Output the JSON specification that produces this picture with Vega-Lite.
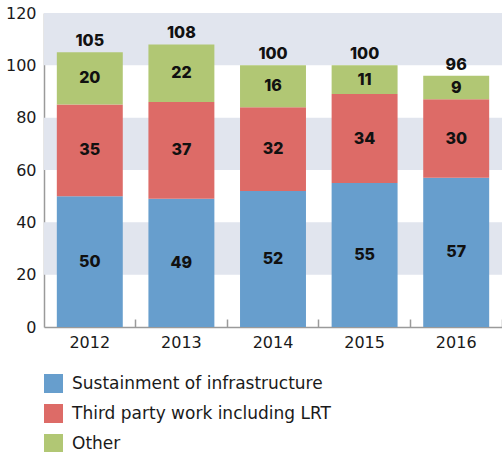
{
  "$schema": "https://vega.github.io/schema/vega-lite/v6.json",
  "width": 458,
  "height": 314,
  "autosize": {"type": "none"},
  "padding": {"left": 44, "top": 13, "right": 0, "bottom": 125},
  "background": "white",
  "config": {
    "view": {"stroke": null},
    "font": "DejaVu Sans",
    "axis": {"labelFont": "DejaVu Sans", "labelFontSize": 16, "labelColor": "#1a1a1a", "grid": false, "domainColor": "#9a9a9a", "domainWidth": 1.5}
  },
  "datasets": {
    "bands": [
      {"lo": 20, "hi": 40},
      {"lo": 60, "hi": 80},
      {"lo": 100, "hi": 120}
    ],
    "costs": [
      {"year": "2012", "category": "Sustainment of infrastructure", "k": 1, "value": 50},
      {"year": "2012", "category": "Third party work including LRT", "k": 2, "value": 35},
      {"year": "2012", "category": "Other", "k": 3, "value": 20},
      {"year": "2013", "category": "Sustainment of infrastructure", "k": 1, "value": 49},
      {"year": "2013", "category": "Third party work including LRT", "k": 2, "value": 37},
      {"year": "2013", "category": "Other", "k": 3, "value": 22},
      {"year": "2014", "category": "Sustainment of infrastructure", "k": 1, "value": 52},
      {"year": "2014", "category": "Third party work including LRT", "k": 2, "value": 32},
      {"year": "2014", "category": "Other", "k": 3, "value": 16},
      {"year": "2015", "category": "Sustainment of infrastructure", "k": 1, "value": 55},
      {"year": "2015", "category": "Third party work including LRT", "k": 2, "value": 34},
      {"year": "2015", "category": "Other", "k": 3, "value": 11},
      {"year": "2016", "category": "Sustainment of infrastructure", "k": 1, "value": 57},
      {"year": "2016", "category": "Third party work including LRT", "k": 2, "value": 30},
      {"year": "2016", "category": "Other", "k": 3, "value": 9}
    ]
  },
  "layer": [
    {
      "data": {"name": "bands"},
      "mark": {"type": "rect", "color": "#e1e5ee"},
      "encoding": {
        "y": {"field": "lo", "type": "quantitative", "scale": {"domain": [0, 120]}},
        "y2": {"field": "hi"}
      }
    },
    {
      "data": {"name": "costs"},
      "mark": {"type": "bar"},
      "encoding": {
        "x": {
          "field": "year", "type": "nominal",
          "scale": {"paddingInner": 0.28, "paddingOuter": 0.14},
          "axis": {"title": null, "labelAngle": 0, "labelPadding": 15, "bandPosition": 1.197, "tickSize": -8, "tickColor": "#9a9a9a", "tickWidth": 1.5}
        },
        "y": {
          "field": "value", "type": "quantitative", "stack": "zero",
          "scale": {"domain": [0, 120]},
          "axis": {"title": null, "values": [0, 20, 40, 60, 80, 100, 120], "ticks": false, "labelPadding": 8}
        },
        "order": {"field": "k", "type": "quantitative"},
        "color": {
          "field": "category", "type": "nominal",
          "scale": {
            "domain": ["Sustainment of infrastructure", "Third party work including LRT", "Other"],
            "range": ["#679ecd", "#dd6b67", "#b1c774"]
          },
          "legend": {
            "title": null, "orient": "none", "legendX": 0, "legendY": 361, "direction": "vertical",
            "symbolType": "square", "symbolSize": 360, "symbolStrokeWidth": 0, "labelLimit": 0,
            "labelFontSize": 17, "labelFont": "DejaVu Sans", "labelColor": "#1a1a1a", "rowPadding": 11, "labelOffset": 9, "symbolOffset": 0
          }
        }
      }
    },
    {
      "data": {"name": "costs"},
      "transform": [
        {"stack": "value", "groupby": ["year"], "sort": [{"field": "k", "order": "ascending"}], "as": ["v0", "v1"]},
        {"calculate": "(datum.v0 + datum.v1) / 2", "as": "mid"}
      ],
      "mark": {"type": "text", "font": "Inter", "fontWeight": 800, "fontSize": 16, "color": "#111111"},
      "encoding": {
        "x": {"field": "year", "type": "nominal"},
        "y": {"field": "mid", "type": "quantitative"},
        "text": {"field": "value", "type": "quantitative"}
      }
    },
    {
      "data": {"name": "costs"},
      "mark": {"type": "text", "font": "Inter", "fontWeight": 800, "fontSize": 16, "color": "#111111", "dy": -3, "baseline": "bottom"},
      "encoding": {
        "x": {"field": "year", "type": "nominal"},
        "y": {"aggregate": "sum", "field": "value", "type": "quantitative"},
        "text": {"aggregate": "sum", "field": "value", "type": "quantitative"}
      }
    }
  ]
}
